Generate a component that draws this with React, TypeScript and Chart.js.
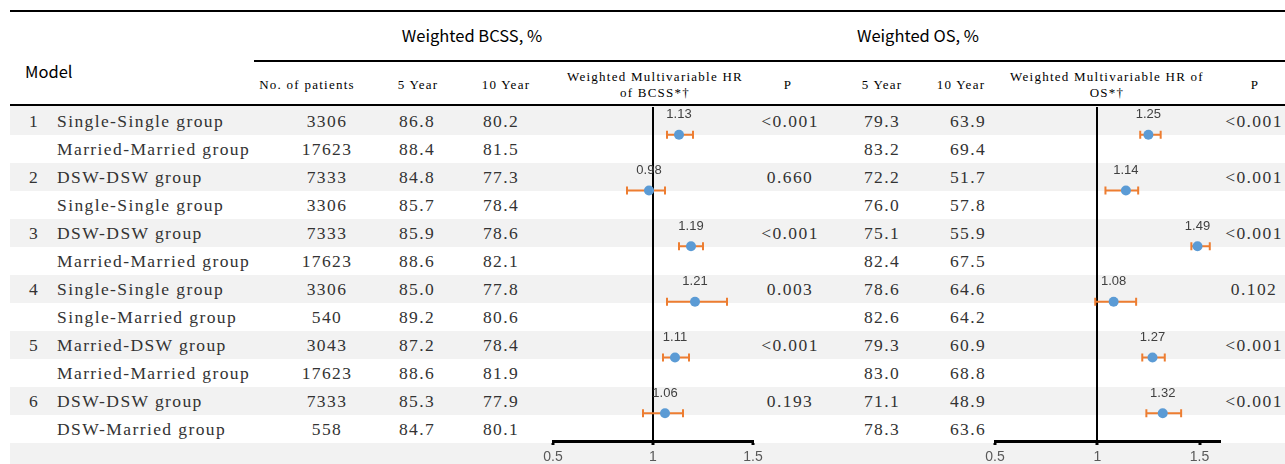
import React, { useEffect, useRef } from 'react';
import { Chart, registerables } from 'chart.js';

Chart.register(...registerables);

// ---------- data ----------
const modelNumbers = ['1', '', '2', '', '3', '', '4', '', '5', '', '6', ''];
const groups = [
  'Single-Single group', 'Married-Married group',
  'DSW-DSW group', 'Single-Single group',
  'DSW-DSW group', 'Married-Married group',
  'Single-Single group', 'Single-Married group',
  'Married-DSW group', 'Married-Married group',
  'DSW-DSW group', 'DSW-Married group',
];
const patients = ['3306', '17623', '7333', '3306', '7333', '17623', '3306', '540', '3043', '17623', '7333', '558'];
const bcss5 = ['86.8', '88.4', '84.8', '85.7', '85.9', '88.6', '85.0', '89.2', '87.2', '88.6', '85.3', '84.7'];
const bcss10 = ['80.2', '81.5', '77.3', '78.4', '78.6', '82.1', '77.8', '80.6', '78.4', '81.9', '77.9', '80.1'];
const bcssP = ['<0.001', '0.660', '<0.001', '0.003', '<0.001', '0.193'];
const os5 = ['79.3', '83.2', '72.2', '76.0', '75.1', '82.4', '78.6', '82.6', '79.3', '83.0', '71.1', '78.3'];
const os10 = ['63.9', '69.4', '51.7', '57.8', '55.9', '67.5', '64.6', '64.2', '60.9', '68.8', '48.9', '63.6'];
const osP = ['<0.001', '<0.001', '<0.001', '0.102', '<0.001', '<0.001'];

const bcssHR = [1.13, 0.98, 1.19, 1.21, 1.11, 1.06];
const bcssLow = [1.07, 0.87, 1.13, 1.07, 1.05, 0.95];
const bcssHigh = [1.20, 1.06, 1.25, 1.37, 1.18, 1.15];
const osHR = [1.25, 1.14, 1.49, 1.08, 1.27, 1.32];
const osLow = [1.21, 1.04, 1.46, 0.99, 1.22, 1.24];
const osHigh = [1.31, 1.20, 1.55, 1.19, 1.33, 1.41];

const bcssTicks = [0.5, 1, 1.5];
const osTicks = [0.5, 1, 1.5];

// ---------- layout constants ----------
const ROW_TOP = 107;
const ROW_H = 28;
const SERIF = '"Liberation Serif", serif';
const SANS = '"Noto Sans CJK SC", "Noto Sans", sans-serif';

function errorBarPlugin(hr: number[], lo: number[], hi: number[]) {
  return {
    id: 'errbars',
    beforeDatasetsDraw(chart: any) {
      const { ctx, scales } = chart;
      const x = scales.x, y = scales.y;
      ctx.save();
      ctx.strokeStyle = '#ED7D31';
      ctx.lineWidth = 2;
      hr.forEach((_, k) => {
        const yp = y.getPixelForValue(1 + 2 * k);
        const x1 = x.getPixelForValue(lo[k]);
        const x2 = x.getPixelForValue(hi[k]);
        ctx.beginPath();
        ctx.moveTo(x1, yp); ctx.lineTo(x2, yp);
        ctx.moveTo(x1, yp - 4); ctx.lineTo(x1, yp + 4);
        ctx.moveTo(x2, yp - 4); ctx.lineTo(x2, yp + 4);
        ctx.stroke();
      });
      ctx.restore();
    },
    afterDatasetsDraw(chart: any) {
      const { ctx, scales } = chart;
      const x = scales.x, y = scales.y;
      ctx.save();
      ctx.fillStyle = '#404040';
      ctx.font = '13px "Liberation Sans", sans-serif';
      ctx.textAlign = 'center';
      ctx.textBaseline = 'middle';
      hr.forEach((v, k) => {
        const yp = y.getPixelForValue(1 + 2 * k);
        ctx.fillText(v.toFixed(2), x.getPixelForValue(v), yp - 20);
      });
      ctx.restore();
    },
  };
}

function makeConfig(hr: number[], lo: number[], hi: number[], min: number, max: number, ticks: number[]): any {
  return {
    type: 'scatter',
    data: {
      datasets: [{
        data: hr.map((v, k) => ({ x: v, y: 1 + 2 * k })),
        pointRadius: 5,
        pointHoverRadius: 5,
        backgroundColor: '#5B9BD5',
        borderWidth: 0,
      }],
    },
    options: {
      animation: false,
      responsive: false,
      events: [],
      layout: { padding: { top: 7, bottom: 0, left: 20, right: 20 } },
      plugins: { legend: { display: false }, tooltip: { enabled: false } },
      scales: {
        x: {
          type: 'linear',
          min, max,
          afterBuildTicks: (s: any) => { s.ticks = ticks.map((v) => ({ value: v })); },
          afterFit: (s: any) => { s.height = 23; },
          grid: {
            color: (c: any) => (c.tick && c.tick.value === 1 ? '#000' : 'rgba(0,0,0,0)'),
            lineWidth: 2,
            drawTicks: true,
            tickLength: 4,
            tickColor: '#000',
            tickWidth: 3,
          },
          border: { display: true, color: '#000', width: 3 },
          ticks: {
            padding: 4,
            color: '#595959',
            font: { family: '"Liberation Sans", sans-serif', size: 14 },
            maxRotation: 0,
            autoSkip: false,
            callback: (v: any) => String(v),
          },
        },
        y: { type: 'linear', min: 0, max: 12, reverse: true, display: false },
      },
    },
    plugins: [errorBarPlugin(hr, lo, hi)],
  };
}

function Forest(props: { left: number; width: number; hr: number[]; lo: number[]; hi: number[]; min: number; max: number; ticks: number[] }) {
  const ref = useRef<HTMLCanvasElement | null>(null);
  useEffect(() => {
    if (!ref.current) return;
    const chart = new Chart(ref.current, makeConfig(props.hr, props.lo, props.hi, props.min, props.max, props.ticks));
    return () => chart.destroy();
  }, []);
  return (
    <canvas
      ref={ref}
      width={props.width}
      height={364}
      style={{ position: 'absolute', left: props.left, top: 100, width: props.width, height: 364 }}
    />
  );
}

const cellStyle = (cx: number, top: number, extra: any = {}): any => ({
  position: 'absolute',
  left: cx,
  top,
  height: ROW_H,
  lineHeight: ROW_H + 'px',
  transform: 'translateX(-50%)',
  whiteSpace: 'nowrap',
  fontFamily: SERIF,
  fontSize: 17.5,
  letterSpacing: '1.4px',
  color: '#333',
  ...extra,
});

const hdrStyle = (cx: number, cy: number): any => ({
  position: 'absolute',
  left: cx,
  top: cy - 9,
  height: 18,
  lineHeight: '18px',
  transform: 'translateX(-50%)',
  whiteSpace: 'nowrap',
  fontFamily: SERIF,
  fontSize: 13,
  letterSpacing: '1.25px',
  color: '#000',
});

const titleStyle = (left: number, top: number, center: boolean): any => ({
  position: 'absolute',
  left,
  top,
  transform: center ? 'translateX(-50%)' : 'none',
  fontFamily: SANS,
  fontSize: 16.5,
  lineHeight: '22px',
  whiteSpace: 'nowrap',
  color: '#000',
});

export default function App() {
  const rows = groups.map((_, i) => i);
  return (
    <div style={{ position: 'absolute', left: 0, top: 0, width: 1285, height: 464, overflow: 'hidden', background: '#fff' }}>
      {/* gray bands */}
      {rows.filter((i) => i % 2 === 0).map((i) => (
        <div key={'b' + i} style={{ position: 'absolute', left: 10, width: 1275, top: ROW_TOP + ROW_H * i - (i === 0 ? 1 : 0), height: ROW_H + (i === 0 ? 1 : 0), background: '#F2F2F2' }} />
      ))}
      <div style={{ position: 'absolute', left: 10, width: 1275, top: ROW_TOP + ROW_H * 12, height: 30, background: '#F2F2F2' }} />

      {/* rules */}
      <div style={{ position: 'absolute', left: 10, width: 1275, top: 10, height: 2, background: '#000' }} />
      <div style={{ position: 'absolute', left: 254, width: 1031, top: 60, height: 2, background: '#000' }} />
      <div style={{ position: 'absolute', left: 10, width: 1275, top: 104, height: 2, background: '#000' }} />

      {/* group titles */}
      <div style={titleStyle(472, 24, true)}>Weighted BCSS, %</div>
      <div style={titleStyle(918, 24, true)}>Weighted OS, %</div>
      <div style={titleStyle(25, 60, false)}>Model</div>

      {/* column headers */}
      <div style={hdrStyle(307, 85)}>No. of patients</div>
      <div style={hdrStyle(418, 85)}>5 Year</div>
      <div style={hdrStyle(506, 85)}>10 Year</div>
      <div style={hdrStyle(655, 77)}>Weighted Multivariable HR</div>
      <div style={hdrStyle(655, 93)}>of BCSS*†</div>
      <div style={hdrStyle(788, 85)}>P</div>
      <div style={hdrStyle(882, 85)}>5 Year</div>
      <div style={hdrStyle(961, 85)}>10 Year</div>
      <div style={hdrStyle(1107, 77)}>Weighted Multivariable HR of</div>
      <div style={hdrStyle(1107, 93)}>OS*†</div>
      <div style={hdrStyle(1255, 85)}>P</div>

      {/* body */}
      {rows.map((i) => {
        const top = ROW_TOP + ROW_H * i;
        return (
          <React.Fragment key={'r' + i}>
            {modelNumbers[i] && <div style={cellStyle(34, top)}>{modelNumbers[i]}</div>}
            <div style={cellStyle(57, top, { transform: 'none' })}>{groups[i]}</div>
            <div style={cellStyle(327, top)}>{patients[i]}</div>
            <div style={cellStyle(417, top)}>{bcss5[i]}</div>
            <div style={cellStyle(501, top)}>{bcss10[i]}</div>
            {i % 2 === 0 && <div style={cellStyle(790, top)}>{bcssP[i / 2]}</div>}
            <div style={cellStyle(882, top)}>{os5[i]}</div>
            <div style={cellStyle(968, top)}>{os10[i]}</div>
            {i % 2 === 0 && <div style={cellStyle(1254, top)}>{osP[i / 2]}</div>}
          </React.Fragment>
        );
      })}

      <Forest left={533} width={240} hr={bcssHR} lo={bcssLow} hi={bcssHigh} min={0.5} max={1.5} ticks={bcssTicks} />
      <Forest left={975} width={265} hr={osHR} lo={osLow} hi={osHigh} min={0.5} max={1.6} ticks={osTicks} />
    </div>
  );
}
